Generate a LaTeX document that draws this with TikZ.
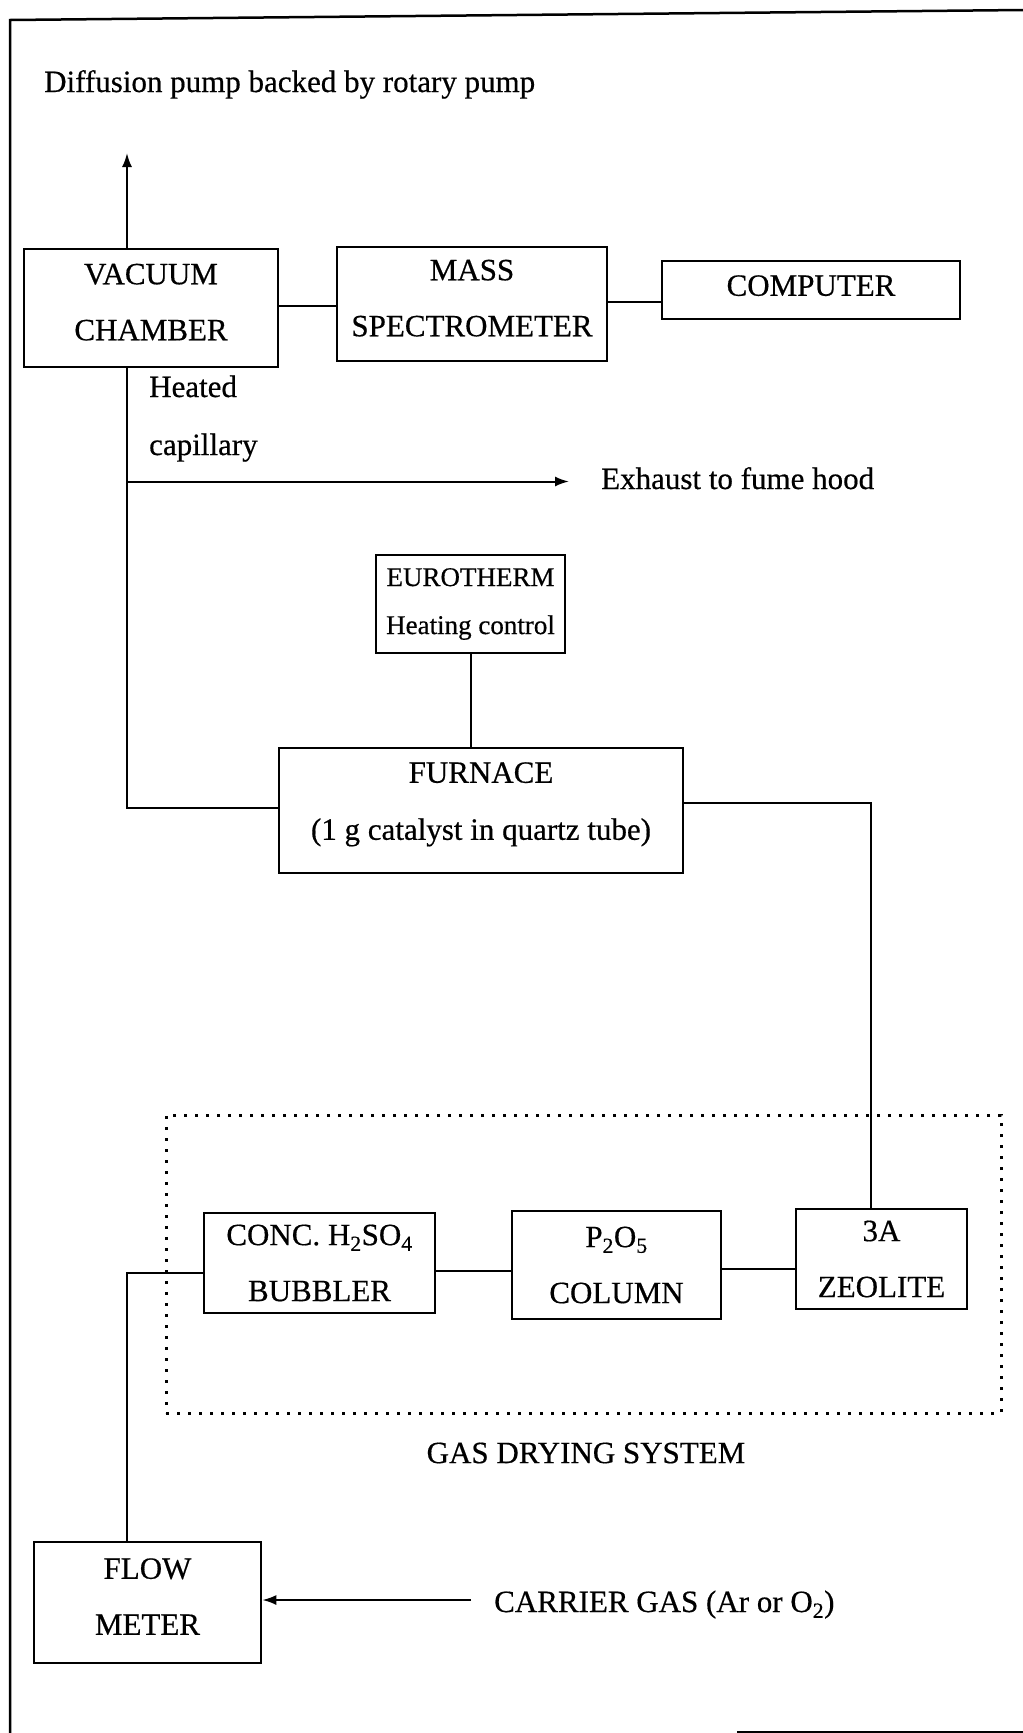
\documentclass[tikz,border=0pt]{standalone}
\usepackage{fontspec}
\setmainfont{Liberation Serif}[FakeBold=0.5]
\usetikzlibrary{arrows.meta}
\begin{document}
\begin{tikzpicture}[x=1pt,y=-1pt,
  every node/.style={font=\fontsize{31}{56}\selectfont, inner sep=0pt},
  box/.style={draw, line width=2.6pt, align=center},
  conn/.style={line width=2pt},
  arr/.style={line width=2pt, -{Latex[length=14pt,width=10pt]}},
  frameline/.style={line width=2.5pt},
  lbl/.style={anchor=base west},
  dotbox/.style={draw, line width=3pt, dash pattern=on 3pt off 8pt}]
\useasboundingbox (0,0) rectangle (1023,1733);

% frame
\draw[frameline] (10,1733) -- (10,20) -- (1023,10);
\draw[frameline] (737,1732) -- (1023,1732);

% boxes
\node[box, minimum width=254pt, minimum height=118pt, text depth=12pt] (vac) at (151,308) {VACUUM\\CHAMBER};
\node[box, minimum width=270pt, minimum height=114pt, text depth=12pt] (mass) at (472,304) {MASS\\SPECTROMETER};
\node[box, minimum width=298pt, minimum height=58pt, text depth=9pt] (comp) at (811,290) {COMPUTER};
\node[box, minimum width=189pt, minimum height=98pt, font=\fontsize{27}{48}\selectfont] (euro) at (470.5,604) {EUROTHERM\\Heating control};
\node[box, minimum width=404pt, minimum height=125pt, font=\fontsize{31}{57}\selectfont, text depth=19pt] (furn) at (481,810.5) {FURNACE\\(1 g catalyst in quartz tube)};
\node[dotbox, minimum width=835pt, minimum height=298pt] (dry) at (583.5,1264) {};
\node[box, minimum width=231pt, minimum height=100pt] (conc) at (319.5,1263) {CONC. H\textsubscript{2}SO\textsubscript{4}\\BUBBLER};
\node[box, minimum width=209pt, minimum height=108pt] (p2o5) at (616.5,1265) {P\textsubscript{2}O\textsubscript{5}\\COLUMN};
\node[box, minimum width=171pt, minimum height=100pt] (zeo) at (881.5,1259) {3A\\ZEOLITE};
\node[box, minimum width=227pt, minimum height=121pt, text depth=12pt] (flow) at (147.5,1602.5) {FLOW\\METER};

% labels
\node[lbl] (pumplbl) at (44,92) {Diffusion pump backed by rotary pump};
\node[lbl] (heated) at (149,397) {Heated};
\node[lbl] (capil) at (149,455) {capillary};
\node[lbl] (exhlbl) at (601,489) {Exhaust to fume hood};
\node (drylbl) at (586,1453) {GAS DRYING SYSTEM};
\node[lbl] (carrier) at (494,1612) {CARRIER GAS (Ar or O\textsubscript{2})};

% connectors
\coordinate (pumptip) at (127,153);
\draw[arr] (pumptip |- vac.north) -- (pumptip);

\coordinate (vm) at (0,306);
\draw[conn] (vac.east |- vm) -- (mass.west |- vm);
\coordinate (mc) at (0,302);
\draw[conn] (mass.east |- mc) -- (comp.west |- mc);

\coordinate (cap) at (127,808);
\draw[conn] (cap |- vac.south) -- (cap) -- (furn.west |- cap);
\coordinate (exh) at (127,481.5);
\coordinate (exhtip) at (569,481.5);
\draw[arr] (exh) -- (exhtip);

\draw[conn] (euro.south) -- (euro.south |- furn.north);

\coordinate (fz) at (871,802.5);
\draw[conn] (furn.east |- fz) -- (fz) -- (fz |- zeo.north);

\coordinate (cp) at (0,1271);
\draw[conn] (conc.east |- cp) -- (p2o5.west |- cp);
\coordinate (pz) at (0,1269);
\draw[conn] (p2o5.east |- pz) -- (zeo.west |- pz);

\coordinate (cf) at (127,1273);
\draw[conn] (conc.west |- cf) -- (cf) -- (cf |- flow.north);

\coordinate (gas) at (471,1600);
\draw[arr] (gas) -- (flow.east |- gas);
\end{tikzpicture}
\end{document}
